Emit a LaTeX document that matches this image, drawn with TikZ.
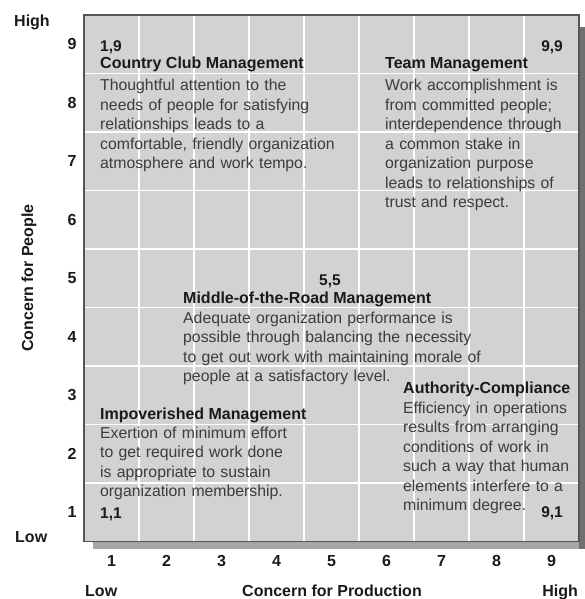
\documentclass[tikz,border=0pt]{standalone}
\usepackage{fontspec}
\setmainfont{Liberation Sans}
\definecolor{gridfill}{HTML}{D2D2D2}
\definecolor{frameln}{HTML}{555555}
\definecolor{shadowR}{HTML}{707070}
\definecolor{shadowB}{HTML}{A6A6A6}
\definecolor{bodytxt}{HTML}{3C3C3C}
\definecolor{headtxt}{HTML}{1A1A1A}
\tikzset{
  ax/.style={font=\fontsize{16}{18}\selectfont\bfseries, text=headtxt, inner sep=0pt},
  head/.style={font=\fontsize{16}{19.5}\selectfont\bfseries, text=headtxt, inner sep=0pt, anchor=base west},
  body/.style={font=\fontsize{15.8}{19.5}\selectfont, text=bodytxt, inner sep=0pt, anchor=base west, align=left, text width=300pt},
  coord/.style={font=\fontsize{15.5}{18}\selectfont\bfseries, text=headtxt, inner sep=0pt},
}
\begin{document}
\begin{tikzpicture}[x=1pt,y=-1pt]
\useasboundingbox (0,0) rectangle (584,599);
% shadows
\fill[shadowB] (93,541) rectangle (579,549);
\fill[shadowR] (579,27) rectangle (586,549);
% grid panel
\fill[gridfill] (84,15) rectangle (579,541.5);
\foreach \k in {1,...,8} {
  \draw[white, line width=1.4pt] (84+55*\k,15) -- (84+55*\k,541.5);
  \draw[white, line width=1.4pt] (84,15+58.5*\k) -- (579,15+58.5*\k);
}
\draw[frameln, line width=1.2pt] (84,15) rectangle (579,541.5);
% axis numbers
\foreach \v in {1,...,9} {
  \node[ax] (y\v) at (72,15+58.5*9.5-58.5*\v) {\v};
  \node[ax] (x\v) at (84+55*\v-27.5,561) {\v};
}
\node[ax, anchor=base west] (yhigh) at (14,27) {High};
\node[ax, anchor=base west] (ylow) at (15,542) {Low};
\node[ax, rotate=90] (ytitle) at (29,278) {Concern for People};
\node[ax, anchor=base west] (xlow) at (85,596) {Low};
\node[ax, anchor=base east] (xhigh) at (578,596) {High};
\node[ax, anchor=base] (xtitle) at (332,596) {Concern for Production};
% 1,9
\node[coord, anchor=base west] (c19) at (100,52) {1,9};
\node[head] (h19) at (100,69) {Country Club Management};
\node[body] (b19) at (100,91) {Thoughtful attention to the\\needs of people for satisfying\\relationships leads to a\\comfortable, friendly organization\\atmosphere and work tempo.};
% 9,9
\node[coord, anchor=base east] (c99) at (563,52) {9,9};
\node[head] (h99) at (385,69) {Team Management};
\node[body] (b99) at (385,91) {Work accomplishment is\\from committed people;\\interdependence through\\a common stake in\\organization purpose\\leads to relationships of\\trust and respect.};
% 5,5
\node[coord, anchor=base] (c55) at (330,285) {5,5};
\node[head] (h55) at (183,303) {Middle-of-the-Road Management};
\node[body] (b55) at (183,323) {Adequate organization performance is\\possible through balancing the necessity\\to get out work with maintaining morale of\\people at a satisfactory level.};
% 1,1
\node[head] (h11) at (100,419) {Impoverished Management};
\node[body] (b11) at (100,438) {Exertion of minimum effort\\to get required work done\\is appropriate to sustain\\organization membership.};
\node[coord, anchor=base west] (c11) at (100,518) {1,1};
% 9,1
\node[head] (h91) at (403,393) {Authority-Compliance};
\node[body] (b91) at (403,413) {Efficiency in operations\\results from arranging\\conditions of work in\\such a way that human\\elements interfere to a\\minimum degree.};
\node[coord, anchor=base east] (c91) at (563,517) {9,1};
\end{tikzpicture}
\end{document}
